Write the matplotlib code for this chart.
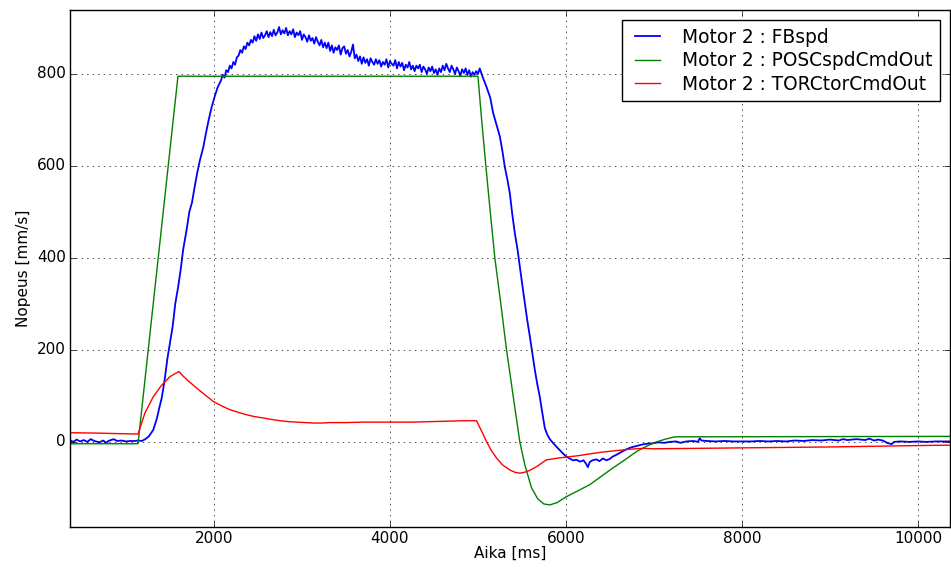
import numpy as np
import matplotlib
matplotlib.use("Agg")
import matplotlib.pyplot as plt

plt.style.use("classic")

# measured feedback speed, Motor 2
fb_t = [364, 400, 440, 480, 520, 560, 600, 640, 700, 740, 780, 800, 860, 900, 950, 1000, 1050, 1100, 1137,
        1180, 1220, 1260, 1310, 1350, 1380, 1406, 1440, 1470, 1500, 1530, 1560, 1594, 1620, 1650, 1690,
        1720, 1750, 1784, 1810, 1840, 1878, 1910, 1940, 1974, 2010, 2040,
        2080, 2100, 2120, 2140, 2160, 2180, 2200, 2220, 2240, 2260,
        2280, 2300, 2320, 2340, 2360, 2380, 2400, 2420, 2440, 2460,
        2480, 2500, 2520, 2540, 2560, 2580, 2600, 2620, 2640, 2660,
        2680, 2700, 2720, 2740, 2760, 2780, 2800, 2820, 2840, 2860,
        2880, 2900, 2920, 2940, 2960, 2980, 3000, 3020, 3040, 3060,
        3080, 3100, 3120, 3140, 3160, 3180, 3200, 3220, 3240, 3260,
        3280, 3300, 3320, 3340, 3360, 3380, 3400, 3420, 3440, 3460,
        3480, 3500, 3520, 3540, 3560, 3580, 3600, 3620, 3640, 3660,
        3680, 3700, 3720, 3740, 3760, 3780, 3800, 3820, 3840, 3860,
        3880, 3900, 3920, 3940, 3960, 3980, 4000, 4020, 4040, 4060,
        4080, 4100, 4120, 4140, 4160, 4180, 4200, 4220, 4240, 4260,
        4280, 4300, 4320, 4340, 4360, 4380, 4400, 4420, 4440, 4460,
        4480, 4500, 4520, 4540, 4560, 4580, 4600, 4620, 4640, 4660,
        4680, 4700, 4720, 4740, 4760, 4780, 4800, 4820, 4840, 4860,
        4880, 4900, 4920, 4940, 4960, 4980, 5000, 5020,
        5060, 5097, 5140, 5173, 5210, 5249, 5280, 5305, 5335, 5362, 5390, 5419, 5450, 5476, 5505, 5533,
        5560, 5590, 5620, 5646, 5675, 5703, 5730, 5760, 5790, 5817, 5860, 5900, 5930, 5970, 6006, 6040,
        6080, 6120, 6160, 6200, 6230, 6249, 6270, 6300, 6347, 6380, 6420, 6460, 6498, 6530, 6574, 6610,
        6650, 6688, 6740, 6802, 6860, 6920, 6987, 7050, 7120, 7180, 7250, 7300, 7370, 7450, 7500, 7520,
        7540, 7600, 7700, 7800, 7900, 8000, 8100, 8200, 8300, 8400, 8500, 8600, 8700, 8800, 8900, 9000,
        9100, 9150, 9200, 9300, 9400, 9450, 9500, 9550, 9600, 9650, 9700, 9730, 9800, 9900, 10000,
        10100, 10200, 10364]
fb_v = [4, 0, 5, 1, 4, 0, 6, 2, -1, 3, -2, 2, 6, 2, 3, 1, 2, 2, 3,
        2, 6, 12, 26, 50, 75, 95, 135, 180, 215, 250, 300, 338, 372, 418, 462,
        500, 520, 558, 585, 612, 640, 672, 700, 728, 752, 770,
        786, 798, 792, 808, 804, 818, 812, 826, 820, 836,
        840, 852, 846, 860, 854, 868, 862, 874, 868, 882,
        872, 886, 876, 890, 878, 884, 893, 880, 891, 882,
        896, 884, 890, 902, 886, 895, 888, 900, 884, 893,
        886, 897, 880, 890, 884, 893, 874, 886, 880, 870,
        884, 872, 878, 866, 880, 870, 862, 874, 858, 868,
        856, 868, 850, 862, 846, 858, 852, 862, 842, 856,
        860, 844, 852, 838, 848, 864, 834, 842, 828, 838,
        822, 836, 824, 832, 818, 834, 826, 820, 832, 822,
        830, 816, 826, 820, 832, 814, 828, 822, 818, 830,
        812, 826, 816, 824, 808, 820, 814, 826, 810, 818,
        806, 818, 812, 820, 804, 816, 810, 800, 814, 806,
        816, 802, 810, 798, 812, 804, 818, 808, 822, 812,
        804, 818, 810, 800, 814, 806, 796, 810, 802, 812,
        798, 808, 794, 804, 798, 806, 800, 812,
        790, 772, 748, 715, 690, 664, 630, 598, 570, 541, 495, 454, 418, 381, 340, 302,
        265, 229, 190, 157, 125, 98, 65, 30, 15, 6, -4, -12, -18, -26, -32, -36,
        -40, -39, -43, -40, -48, -55, -44, -40, -38, -42, -36, -40, -37, -32, -28, -24,
        -20, -16, -12, -9, -6, -4, -3, -1, -2, 0, 1, -2, 1, 2, 0, 8,
        3, 2, 1, 2, 1, 1, 1, 2, 1, 2, 1, 3, 2, 4, 3, 5,
        3, 6, 4, 6, 4, 7, 3, 5, 3, -2, -5, 0, 1, 0, 1,
        0, 1, 1]

# position controller speed command
cmd_t = [364, 1137, 1591, 5000, 5040, 5090, 5140, 5192, 5260, 5325, 5400, 5476, 5533, 5609, 5680,
         5750, 5817, 5900, 6006, 6140, 6271, 6400, 6532, 6670, 6802, 6920, 7029, 7130, 7237, 10364]
cmd_v = [-4, -4, 795, 795, 705, 600, 500, 400, 300, 200, 100, 0, -50, -100, -124,
         -135, -137, -132, -119, -106, -93, -75, -57, -39, -21, -9, 0, 6, 11, 12]

# torque controller command
tor_t = [364, 700, 1137, 1216, 1310, 1400, 1500, 1602, 1650, 1700, 1803, 1900, 1992, 2090, 2182, 2280,
         2371, 2460, 2560, 2650, 2750, 2850, 2939, 3040, 3128, 3220, 3318, 3500, 3696, 3900, 4075, 4250,
         4453, 4650, 4832, 4984, 5040, 5097, 5150, 5211, 5280, 5362, 5420, 5476, 5530, 5590, 5680, 5779,
         5880, 6006, 6140, 6271, 6420, 6574, 6720, 6877, 7000, 8000, 9000, 10000, 10364]
tor_v = [20, 19, 17, 63, 98, 122, 142, 153, 143, 134, 117, 102, 88, 78, 70, 64,
         59, 55, 52, 49, 46, 44, 43, 42, 41, 41, 42, 42, 43, 43, 43, 43,
         44, 45, 46, 46, 24, 1, -18, -35, -50, -61, -66, -68, -66, -62, -52, -39,
         -36, -33, -30, -26, -22, -19, -16, -14, -15, -13, -11, -8, -7]

labels = ["Motor 2 : FBspd", "Motor 2 : POSCspdCmdOut", "Motor 2 : TORCtorCmdOut"]

fig = plt.figure(figsize=(9.51, 5.68), dpi=100, facecolor="white")
ax = fig.add_subplot(111)
fig.subplots_adjust(left=0.0736, right=0.9989, top=0.9824, bottom=0.0722)

ax.plot(fb_t, fb_v, color="b", lw=1.3, label=labels[0])
ax.plot(cmd_t, cmd_v, color="g", lw=1.0, label=labels[1])
ax.plot(tor_t, tor_v, color="r", lw=1.0, label=labels[2])

ax.set_xlim(364, 10364)
ax.set_ylim(-185, 939)
ax.set_xticks([2000, 4000, 6000, 8000, 10000])
ax.set_yticks([0, 200, 400, 600, 800])
ax.grid(True)
ax.tick_params(labelsize=11, pad=3)
ax.set_xlabel("Aika [ms]", fontsize=11, labelpad=0)
ax.set_ylabel("Nopeus [mm/s]", fontsize=11, labelpad=4)

leg = ax.legend(loc="upper right", fontsize=13.4, fancybox=False, labelspacing=0.25,
                handlelength=1.95, handletextpad=0.85, borderaxespad=0.55)

fig.savefig("out.png", dpi=100, facecolor="white")
